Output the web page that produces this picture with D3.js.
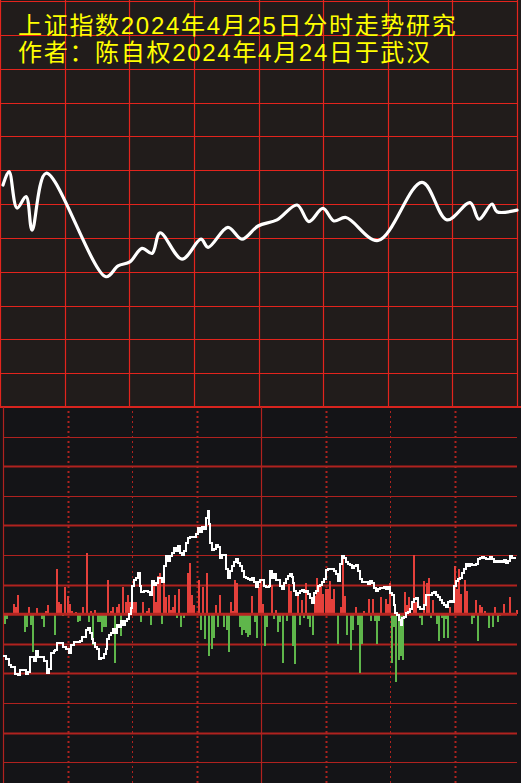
<!DOCTYPE html>
<html lang="zh-CN"><head><meta charset="utf-8">
<script src="https://cdn.jsdelivr.net/npm/d3@7/dist/d3.min.js"></script>
<style>html,body{margin:0;padding:0;background:#141417;overflow:hidden}</style>
</head><body><svg id="c" width="521" height="783"></svg>
<script>
// ---- data ----
const titleLines = ["上证指数2024年4月25日分时走势研究", "作者：陈自权2024年4月24日于武汉"];

// top panel: forecast curve (minute of session, index level in grid units*10)
const topMinutes = [1.4, 4.2, 7.9, 12.1, 14.9, 21.4, 49.2, 54.8, 60.3, 65.9, 70.6, 74.3, 84.5, 93.3, 96.6, 105.8, 112.3, 119.8, 128.6, 137.9, 143.4, 149.9, 155.0, 160.6, 175.5, 195.9, 207.5, 218.2, 222.4, 228.4, 230.7, 240];
const topValues  = [65.6, 69.6, 58.8, 62.2, 52.3, 69.1, 38.5, 41.7, 42.9, 46.9, 45.4, 51.5, 43.7, 49.6, 47.2, 53.1, 49.6, 53.5, 55.3, 59.7, 54.8, 58.7, 55.0, 56.0, 49.2, 66.4, 55.3, 60.4, 55.5, 60.0, 57.7, 58.2];

// bottom panel: intraday price line
const lineMinutes = [0,1.4,2.8,3.7,5.6,7.0,7.9,8.8,10.7,11.6,12.6,14.4,15.3,16.3,18.1,19.1,20.5,21.4,22.3,23.7,24.2,25.1,27.4,27.9,29.3,30.7,31.6,33.0,34.4,35.8,36.7,38.6,39.5,40.5,41.4,41.9,42.8,43.7,44.7,45.6,47.0,47.9,48.4,49.3,50.2,51.2,52.1,53.0,54.0,54.9,55.8,56.7,57.7,58.6,59.5,60.0,60.9,61.9,62.8,63.7,64.2,65.6,67.4,68.4,69.3,70.2,71.2,72.1,73.0,74.0,74.9,75.8,76.7,77.7,78.6,79.5,80.5,81.4,82.3,83.3,84.2,85.1,86.0,87.0,88.8,89.8,90.7,91.6,92.6,93.5,94.4,95.3,95.8,96.3,97.2,98.1,99.1,100.0,100.9,101.9,103.7,104.7,105.6,106.5,107.4,108.4,109.3,110.2,111.2,112.1,113.0,114.0,114.9,115.8,116.7,117.7,118.6,119.5,121.4,122.3,123.7,124.2,125.1,126.0,127.0,127.9,128.8,129.8,130.7,131.6,132.6,133.5,134.4,134.9,135.3,136.3,137.2,138.1,139.1,140.0,140.9,141.9,142.8,143.7,144.7,145.6,146.5,147.4,148.4,149.3,150.2,151.2,153.0,154.0,154.9,155.8,156.7,157.7,158.6,159.5,160.5,161.4,162.3,163.3,164.2,165.1,166.0,167.0,168.8,169.8,170.7,171.6,172.6,173.5,174.4,175.3,177.2,178.1,179.1,180.0,180.9,181.9,182.3,183.3,184.2,185.1,185.6,186.5,187.4,188.4,189.3,190.2,191.2,192.1,193.0,194.0,194.9,195.8,196.7,197.7,198.6,199.5,200.5,201.4,202.3,203.3,204.2,205.1,206.0,207.0,207.9,208.8,209.8,210.7,211.6,212.6,213.5,214.4,215.3,216.3,217.2,218.1,219.1,220.0,220.9,221.9,222.8,223.7,224.7,225.6,226.5,227.4,228.4,229.3,230.2,231.2,232.1,233.0,234.0,234.9,235.8,236.7,237.7,238.6];
const lineValues  = [-42,-45,-51,-53,-61,-62,-56,-57,-61,-59,-43,-47,-37,-43,-43,-47,-60,-55,-39,-37,-36,-29,-29,-33,-35,-39,-31,-28,-28,-27,-23,-16,-14,-19,-25,-29,-33,-35,-45,-44,-40,-35,-25,-21,-19,-15,-19,-11,-13,-7,-11,-7,-5,0,6,29,35,37,42,29,23,24,23,19,34,30,32,37,37,33,49,59,54,59,62,67,64,69,62,60,64,72,77,78,78,81,87,83,88,86,98,105,91,72,65,66,70,68,57,60,46,37,44,49,53,56,52,49,44,38,37,36,35,37,33,28,33,35,29,28,29,44,37,41,35,35,29,26,32,36,39,41,38,32,24,19,22,24,25,23,24,21,16,11,22,24,29,30,33,36,45,46,46,44,41,34,51,59,57,53,51,50,47,49,50,44,36,33,33,31,34,32,27,24,26,27,28,26,28,22,19,9,1,-1,-6,-11,-4,-3,1,2,5,12,15,16,7,5,5,9,20,19,20,22,23,20,17,14,11,9,7,12,13,12,29,34,36,37,42,46,51,49,51,50,50,51,56,57,58,57,56,56,58,56,53,54,53,54,53,55,52,54,59,57,57,57];

// bottom panel: per-minute volume bars (positive = red/up, negative = green/down)
const barMinutes = [1,2,5,6,7,10,11,12,13,14,16,18,19,20,21,24,25,26,27,28,29,30,31,32,34,35,36,37,39,40,41,42,43,44,45,46,47,48,49,50,51,52,53,54,55,56,57,58,59,60,61,62,64,65,67,68,69,70,71,72,73,74,75,76,77,78,79,80,81,82,83,84,86,87,88,89,91,92,93,94,95,96,97,98,99,100,101,103,104,105,106,107,108,109,110,111,112,113,114,115,116,117,118,119,120,121,122,123,125,126,127,128,129,130,132,133,134,135,136,137,138,139,140,141,142,143,144,145,146,147,148,149,150,151,152,153,154,156,157,158,159,160,162,163,164,165,166,167,168,170,171,172,173,174,175,176,178,179,180,181,182,183,184,185,186,187,188,189,191,192,194,195,196,197,198,199,200,202,203,204,205,206,207,208,210,211,212,213,215,216,218,219,220,221,222,223,224,226,228,229,230,231,233,236,239];
const barValues  = [-10,-5,10,7,20,-18,-13,7,-11,-38,6,-5,-13,3,9,-21,46,12,10,-2,28,18,10,3,2,-8,-7,7,62,-8,3,-31,4,-8,-8,-18,-13,-13,35,3,7,-49,7,10,-22,28,12,20,12,25,12,12,-8,12,3,6,-11,29,12,39,42,-10,32,17,19,4,7,19,-4,26,-13,-4,42,52,20,9,35,-16,28,-25,42,-42,-35,-24,9,-13,19,-13,-16,-38,12,3,35,32,-13,-21,-16,-19,-23,-21,18,-8,-24,28,36,10,-32,-13,30,-5,4,-18,-8,-49,-7,31,24,-32,-50,21,-11,14,-4,32,-5,-13,-21,18,37,29,31,21,26,26,34,15,26,-30,7,59,18,-21,-36,-16,7,-11,-60,-30,3,15,-7,15,-7,-30,-7,17,15,10,32,-49,-13,-69,-46,-42,-46,23,9,17,60,12,-4,-11,34,32,37,-4,14,-10,-27,-4,-24,-5,-24,7,49,26,46,21,35,24,-10,-4,14,-27,9,7,3,-14,-13,7,-8,-2,10,17,4];

const sessionTicks = [30, 60, 90, 120, 150, 180, 210];

// ---- drawing ----
const svg = d3.select("#c");
const W = 521, H = 783, splitY = 407;

const xT = d3.scaleLinear().domain([0, 240]).range([0, 517]);
const yT = d3.scaleLinear().domain([0, 120]).range([407, 1]);
const xB = d3.scaleLinear().domain([0, 240]).range([3, 519]);
const yB = d3.scaleLinear().domain([-171, 210]).range([783, 407]);

svg.append("rect").attr("x",0).attr("y",0).attr("width",W).attr("height",splitY).attr("fill","#211c1b");
svg.append("rect").attr("x",0).attr("y",splitY).attr("width",W).attr("height",H-splitY).attr("fill","#141417");

// top grid
const gT = svg.append("g");
gT.selectAll("line.h").data(d3.range(0, 121, 10)).join("line")
  .attr("x1", 0).attr("x2", 517)
  .attr("y1", d => Math.round(yT(d)) + 0.5).attr("y2", d => Math.round(yT(d)) + 0.5)
  .attr("stroke", "#e3241d").attr("stroke-width", 1.2);
gT.selectAll("line.v").data(d3.range(0, 241, 30)).join("line")
  .attr("x1", d => Math.round(xT(d)) + 0.5).attr("x2", d => Math.round(xT(d)) + 0.5)
  .attr("y1", 0).attr("y2", splitY)
  .attr("stroke", "#e3241d").attr("stroke-width", 1.2);

// top curve
svg.append("path")
  .datum(topMinutes.map((m, i) => [m, topValues[i]]))
  .attr("d", d3.line().x(d => xT(d[0])).y(d => yT(d[1])).curve(d3.curveCatmullRom.alpha(0.5)))
  .attr("fill", "none").attr("stroke", "#ffffff").attr("stroke-width", 3.2)
  .attr("stroke-linejoin", "round").attr("stroke-linecap", "round");

// title
svg.append("g").selectAll("text").data(titleLines).join("text")
  .attr("x", 18).attr("y", (d, i) => 34 + i * 27)
  .attr("fill", "#ffff00")
  .attr("font-family", "'Liberation Sans', 'Noto Sans CJK SC', sans-serif")
  .attr("font-size", 24).attr("letter-spacing", 1.7)
  .text(d => d);

// divider
svg.append("line").attr("x1",0).attr("x2",W).attr("y1",splitY).attr("y2",splitY)
  .attr("stroke","#d8241e").attr("stroke-width",2);

// bottom grid
const gB = svg.append("g");
const thickLevels = [150, 90, 30, -30, -60, -120];
const hLevels = d3.range(-150, 181, 30).filter(d => d !== 0);
gB.selectAll("line.h").data(hLevels).join("line")
  .attr("x1", 3).attr("x2", 517)
  .attr("y1", d => Math.round(yB(d)) + 0.5).attr("y2", d => Math.round(yB(d)) + 0.5)
  .attr("stroke", "#b0221f")
  .attr("stroke-width", d => thickLevels.includes(d) ? 2.2 : 1.2);
gB.append("line").attr("x1", 3.5).attr("x2", 3.5).attr("y1", splitY).attr("y2", H)
  .attr("stroke", "#b0221f").attr("stroke-width", 1.2);
gB.selectAll("line.v").data(sessionTicks).join("line")
  .attr("x1", d => Math.round(xB(d)) + 0.5).attr("x2", d => Math.round(xB(d)) + 0.5)
  .attr("y1", d => d === 120 ? splitY : 411).attr("y2", H)
  .attr("stroke", "#b0221f")
  .attr("stroke-width", d => d === 120 ? 1.2 : (d === 60 || d === 180 ? 1 : 2))
  .attr("stroke-dasharray", d => d === 120 ? null : "2,3");

// bars
svg.append("g").selectAll("rect").data(barMinutes.map((m, i) => [m, barValues[i]])).join("rect")
  .attr("x", d => xB(d[0]) - 1)
  .attr("width", 2)
  .attr("y", d => d[1] > 0 ? yB(d[1]) : yB(0))
  .attr("height", d => Math.abs(yB(d[1]) - yB(0)))
  .attr("fill", d => d[1] > 0 ? "#e4403b" : "#5fb64b")
  .attr("shape-rendering", "crispEdges");

// zero line
svg.append("line").attr("x1", 3).attr("x2", 517).attr("y1", yB(0)).attr("y2", yB(0))
  .attr("stroke", "#b52521").attr("stroke-width", 3);

// price line
svg.append("path")
  .datum(lineMinutes.map((m, i) => [m, lineValues[i]]))
  .attr("d", d3.line().x(d => xB(d[0])).y(d => yB(d[1])).curve(d3.curveStepAfter))
  .attr("fill", "none").attr("stroke", "#ffffff").attr("stroke-width", 2)
  .attr("shape-rendering", "crispEdges");
</script></body></html>
